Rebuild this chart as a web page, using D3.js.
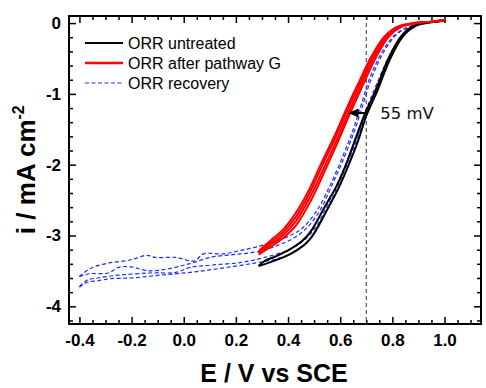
<!DOCTYPE html>
<html>
<head>
<meta charset="utf-8">
<script src="https://cdn.jsdelivr.net/npm/d3@7"></script>
<style>
  body { margin: 0; background: #fff; }
  svg { display: block; }
  .tick text { font-family: "Liberation Sans", Arial, sans-serif; font-weight: bold; font-size: 17px; }
</style>
</head>
<body>
<svg width="486" height="388"></svg>
<script>
// ---- data: [E (V vs SCE), i (mA cm-2)]
const blackForward = [[0.287,-3.43],[0.33,-3.38],[0.41,-3.26],[0.46,-3.14],[0.48,-3.07],[0.50,-2.97],[0.52,-2.84],[0.545,-2.67],[0.57,-2.50],[0.59,-2.36],[0.625,-2.07],[0.665,-1.70],[0.69,-1.42],[0.70,-1.31],[0.72,-1.14],[0.74,-0.98],[0.79,-0.52],[0.84,-0.19],[0.89,-0.04],[0.95,0.01],[1.0,0.03]];
const blackReverse = [[0.287,-3.43],[0.31,-3.36],[0.35,-3.30],[0.41,-3.19],[0.45,-3.09],[0.475,-3.00],[0.495,-2.90],[0.515,-2.77],[0.54,-2.60],[0.565,-2.44],[0.585,-2.31],[0.62,-2.02],[0.655,-1.67],[0.68,-1.42],[0.695,-1.28],[0.715,-1.12],[0.735,-0.96],[0.785,-0.50],[0.835,-0.18],[0.885,-0.03],[0.95,0.02],[1.0,0.04]];

const red1 = [[0.29,-3.21],[0.33,-3.08],[0.38,-2.92],[0.43,-2.68],[0.48,-2.36],[0.525,-2.00],[0.575,-1.62],[0.61,-1.33],[0.64,-1.08],[0.67,-0.85],[0.72,-0.47],[0.77,-0.19],[0.82,-0.05],[0.88,0.0],[0.95,0.02],[1.0,0.04]];
const red2 = [[0.287,-3.23],[0.33,-3.11],[0.38,-2.96],[0.43,-2.74],[0.483,-2.40],[0.53,-2.02],[0.58,-1.63],[0.615,-1.34],[0.645,-1.09],[0.675,-0.86],[0.725,-0.47],[0.775,-0.19],[0.825,-0.05],[0.885,0.0],[0.95,0.02],[1.0,0.04]];
const red3 = [[0.287,-3.25],[0.33,-3.14],[0.38,-3.00],[0.43,-2.80],[0.487,-2.44],[0.537,-2.05],[0.587,-1.65],[0.622,-1.35],[0.652,-1.10],[0.682,-0.86],[0.732,-0.47],[0.782,-0.19],[0.832,-0.05],[0.89,0.0],[0.95,0.02],[1.0,0.04]];
const red4 = [[0.287,-3.27],[0.33,-3.17],[0.38,-3.04],[0.43,-2.86],[0.49,-2.49],[0.542,-2.08],[0.592,-1.67],[0.628,-1.36],[0.658,-1.11],[0.688,-0.87],[0.738,-0.48],[0.787,-0.19],[0.837,-0.05],[0.895,0.0],[0.95,0.02],[1.0,0.04]];

const blue1 = [[-0.40,-3.58],[-0.36,-3.47],[-0.29,-3.39],[-0.21,-3.35],[-0.14,-3.28],[-0.11,-3.31],[-0.03,-3.31],[0.04,-3.36],[0.076,-3.26],[0.15,-3.26],[0.22,-3.21],[0.28,-3.16],[0.36,-3.07],[0.42,-2.98],[0.46,-2.88],[0.51,-2.65],[0.56,-2.30],[0.61,-1.88],[0.65,-1.50],[0.68,-1.16],[0.715,-0.76],[0.765,-0.38],[0.815,-0.15],[0.88,-0.03],[0.95,0.02],[1.0,0.04]];
const blue2 = [[-0.40,-3.58],[-0.36,-3.54],[-0.29,-3.53],[-0.25,-3.45],[-0.21,-3.44],[-0.13,-3.50],[-0.06,-3.47],[0.0,-3.42],[0.04,-3.38],[0.10,-3.31],[0.19,-3.27],[0.28,-3.23],[0.36,-3.14],[0.42,-3.04],[0.47,-2.90],[0.52,-2.66],[0.565,-2.32],[0.615,-1.90],[0.655,-1.52],[0.685,-1.18],[0.72,-0.78],[0.77,-0.39],[0.82,-0.15],[0.885,-0.03],[0.95,0.02],[1.0,0.04]];
const blue3 = [[-0.40,-3.72],[-0.37,-3.63],[-0.33,-3.60],[-0.25,-3.56],[-0.13,-3.53],[-0.03,-3.52],[0.025,-3.45],[0.10,-3.42],[0.22,-3.38],[0.31,-3.31],[0.41,-3.19],[0.47,-3.04],[0.51,-2.86],[0.55,-2.58],[0.59,-2.26],[0.63,-1.92],[0.67,-1.55],[0.70,-1.22],[0.74,-0.86],[0.79,-0.45],[0.84,-0.16],[0.89,-0.03],[0.95,0.02],[1.0,0.04]];
const blue4 = [[-0.40,-3.73],[-0.37,-3.66],[-0.33,-3.64],[-0.28,-3.61],[-0.20,-3.60],[-0.09,-3.56],[0.025,-3.52],[0.13,-3.47],[0.255,-3.40],[0.357,-3.33],[0.42,-3.24],[0.47,-3.10],[0.51,-2.92],[0.55,-2.64],[0.59,-2.30],[0.63,-1.96],[0.67,-1.58],[0.705,-1.22],[0.745,-0.86],[0.795,-0.45],[0.845,-0.16],[0.895,-0.03],[0.95,0.01],[1.0,0.03]];

const xTicks = [-0.4, -0.2, 0.0, 0.2, 0.4, 0.6, 0.8, 1.0];
const yTicks = [0, -1, -2, -3, -4];
const legendLabels = ['ORR untreated', 'ORR after pathway G', 'ORR recovery'];
const refPotential = 0.7;
const shiftArrow = { from: [0.70, -1.27], to: [0.632, -1.27], label: '55 mV' };

// ---- layout
const svg = d3.select('svg');
const margin = { left: 69, right: 5, top: 16, bottom: 64 };
const width = 486 - margin.left - margin.right;
const height = 388 - margin.top - margin.bottom;

const g = svg.append('g').attr('transform', `translate(${margin.left},${margin.top})`);

const x = d3.scaleLinear().domain([-0.44, 1.14]).range([0, width]);
const y = d3.scaleLinear().domain([-4.25, 0.1]).range([height, 0]);

// minor tick values
const xMinor = d3.range(-0.4, 1.141, 0.05).filter(v => Math.abs(Math.round(v * 5) - v * 5) > 1e-6);
const yMinor = d3.range(-4.2, 0.01, 0.2).filter(v => Math.abs(Math.round(v) - v) > 1e-6);

// ---- axes (ticks inward, mirrored on top/right)
function styleAxis(sel) {
    sel.select('.domain').remove();
    sel.selectAll('.tick line').attr('stroke', '#000').attr('stroke-width', 1.5);
}

g.append('g').attr('transform', `translate(0,${height})`)
    .call(d3.axisBottom(x).tickValues(xTicks).tickSizeInner(-7).tickSizeOuter(0).tickPadding(10).tickFormat(d => d.toFixed(1)))
    .call(styleAxis)
    .selectAll('text').attr('fill', '#000');
g.append('g').attr('transform', `translate(0,${height})`)
    .call(d3.axisBottom(x).tickValues(xMinor).tickSizeInner(-4).tickSizeOuter(0).tickFormat(''))
    .call(styleAxis);
g.append('g')
    .call(d3.axisTop(x).tickValues(xTicks).tickSizeInner(-7).tickSizeOuter(0).tickFormat(''))
    .call(styleAxis);
g.append('g')
    .call(d3.axisTop(x).tickValues(xMinor).tickSizeInner(-4).tickSizeOuter(0).tickFormat(''))
    .call(styleAxis);

g.append('g')
    .call(d3.axisLeft(y).tickValues(yTicks).tickSizeInner(-7).tickSizeOuter(0).tickPadding(8).tickFormat(d => String(d)))
    .call(styleAxis)
    .selectAll('text').attr('fill', '#000');
g.append('g')
    .call(d3.axisLeft(y).tickValues(yMinor).tickSizeInner(-4).tickSizeOuter(0).tickFormat(''))
    .call(styleAxis);
g.append('g').attr('transform', `translate(${width},0)`)
    .call(d3.axisRight(y).tickValues(yTicks).tickSizeInner(-7).tickSizeOuter(0).tickFormat(''))
    .call(styleAxis);
g.append('g').attr('transform', `translate(${width},0)`)
    .call(d3.axisRight(y).tickValues(yMinor).tickSizeInner(-4).tickSizeOuter(0).tickFormat(''))
    .call(styleAxis);

// ---- reference potential dashed line
g.append('line')
    .attr('x1', x(refPotential)).attr('x2', x(refPotential))
    .attr('y1', 0).attr('y2', height)
    .attr('stroke', '#333').attr('stroke-width', 1)
    .attr('stroke-dasharray', '4,3');

// ---- curves
const line = d3.line().x(d => x(d[0])).y(d => y(d[1])).curve(d3.curveCatmullRom);

const series = [
    { data: [blue1, blue2, blue3, blue4], color: '#1f2cff', width: 1.2, dash: '4,2.5' },
    { data: [blackForward, blackReverse], color: '#000', width: 2, dash: null },
    { data: [red4, red3, red2, red1], color: '#ff0000', width: 2, dash: null }
];

series.forEach(s => {
    g.append('g').selectAll('path')
        .data(s.data)
        .join('path')
        .attr('d', line)
        .attr('fill', 'none')
        .attr('stroke', s.color)
        .attr('stroke-width', s.width)
        .attr('stroke-linejoin', 'round')
        .attr('stroke-dasharray', s.dash);
});

// ---- 55 mV arrow
g.append('line')
    .attr('x1', x(shiftArrow.from[0])).attr('y1', y(shiftArrow.from[1]))
    .attr('x2', x(shiftArrow.to[0]) + 1).attr('y2', y(shiftArrow.to[1]))
    .attr('stroke', '#000').attr('stroke-width', 2);
g.append('path')
    .attr('d', `M${x(shiftArrow.to[0])},${y(shiftArrow.to[1])}l10,-4.5l0,9Z`)
    .attr('fill', '#000');
g.append('text')
    .attr('x', x(shiftArrow.from[0]) + 14).attr('y', y(shiftArrow.from[1]) + 6)
    .attr('font-family', '"DejaVu Sans", sans-serif')
    .attr('font-size', 16.5)
    .attr('fill', '#111')
    .text(shiftArrow.label);

// ---- frame
g.append('rect')
    .attr('width', width).attr('height', height)
    .attr('fill', 'none').attr('stroke', '#000').attr('stroke-width', 2);

// ---- legend
const legendStyles = [
    { color: '#000', width: 2, dash: null },
    { color: '#ff0000', width: 2.5, dash: null },
    { color: '#1f2cff', width: 1.2, dash: '4,2.5' }
];
const legend = svg.append('g').attr('transform', 'translate(85,43)');
legendLabels.forEach((label, k) => {
    const row = legend.append('g').attr('transform', `translate(0,${k * 20})`);
    row.append('line')
        .attr('x1', 0).attr('x2', 38)
        .attr('stroke', legendStyles[k].color)
        .attr('stroke-width', legendStyles[k].width)
        .attr('stroke-dasharray', legendStyles[k].dash);
    row.append('text')
        .attr('x', 43).attr('y', 5.5)
        .attr('font-family', '"Liberation Sans", Arial, sans-serif')
        .attr('font-size', 16)
        .attr('fill', '#000')
        .text(label);
});

// ---- axis titles
svg.append('text')
    .attr('x', margin.left + width / 2 - 1).attr('y', 382)
    .attr('text-anchor', 'middle')
    .attr('font-family', '"Liberation Sans", Arial, sans-serif')
    .attr('font-weight', 'bold').attr('font-size', 25)
    .text('E / V vs SCE');

const yTitle = svg.append('text')
    .attr('transform', `translate(35,${margin.top + y(-2) + 5}) rotate(-90)`)
    .attr('text-anchor', 'middle')
    .attr('font-family', '"Liberation Sans", Arial, sans-serif')
    .attr('font-weight', 'bold').attr('font-size', 26);
yTitle.append('tspan').text('i / mA cm');
yTitle.append('tspan').attr('font-size', 16).attr('dy', -11).text('-2');
</script>
</body>
</html>
